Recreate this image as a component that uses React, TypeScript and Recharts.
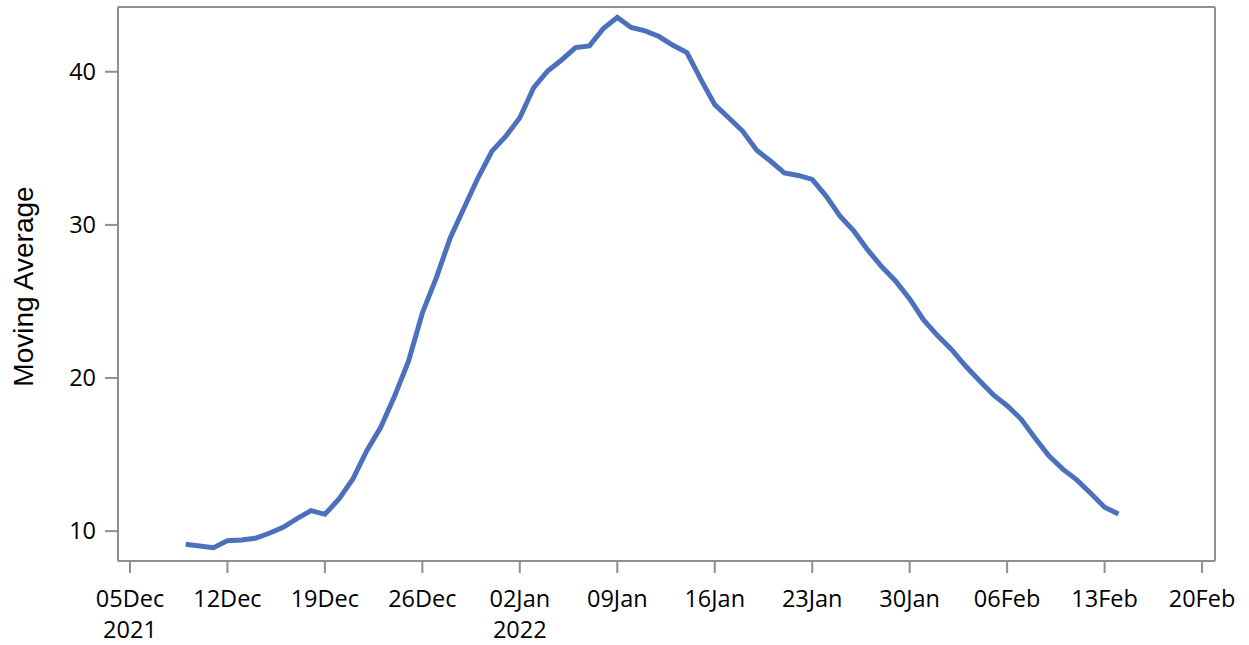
import React from "react";
import { LineChart, Line, XAxis, YAxis } from "recharts";

const dates: string[] = [
  "2021-12-09","2021-12-10","2021-12-11","2021-12-12","2021-12-13","2021-12-14","2021-12-15",
  "2021-12-16","2021-12-17","2021-12-18","2021-12-19","2021-12-20","2021-12-21","2021-12-22",
  "2021-12-23","2021-12-24","2021-12-25","2021-12-26","2021-12-27","2021-12-28","2021-12-29",
  "2021-12-30","2021-12-31","2022-01-01","2022-01-02","2022-01-03","2022-01-04","2022-01-05",
  "2022-01-06","2022-01-07","2022-01-08","2022-01-09","2022-01-10","2022-01-11","2022-01-12",
  "2022-01-13","2022-01-14","2022-01-15","2022-01-16","2022-01-17","2022-01-18","2022-01-19",
  "2022-01-20","2022-01-21","2022-01-22","2022-01-23","2022-01-24","2022-01-25","2022-01-26",
  "2022-01-27","2022-01-28","2022-01-29","2022-01-30","2022-01-31","2022-02-01","2022-02-02",
  "2022-02-03","2022-02-04","2022-02-05","2022-02-06","2022-02-07","2022-02-08","2022-02-09",
  "2022-02-10","2022-02-11","2022-02-12","2022-02-13","2022-02-14",
];

const movingAverage: number[] = [
  9.14, 9.03, 8.92, 9.38, 9.42, 9.53, 9.86,
  10.25, 10.82, 11.34, 11.10, 12.08, 13.39, 15.24,
  16.77, 18.80, 21.09, 24.25, 26.54, 29.15, 31.12,
  33.08, 34.82, 35.80, 37.00, 38.97, 40.05, 40.77,
  41.58, 41.69, 42.83, 43.55, 42.89, 42.67, 42.30,
  41.73, 41.25, 39.50, 37.85, 37.00, 36.13, 34.89,
  34.17, 33.40, 33.23, 32.97, 31.88, 30.57, 29.59,
  28.35, 27.26, 26.32, 25.17, 23.79, 22.77, 21.87,
  20.80, 19.84, 18.91, 18.19, 17.32, 16.08, 14.92,
  14.05, 13.35, 12.48, 11.56, 11.12,
];

const xTickDates: string[] = [
  "2021-12-05","2021-12-12","2021-12-19","2021-12-26","2022-01-02","2022-01-09",
  "2022-01-16","2022-01-23","2022-01-30","2022-02-06","2022-02-13","2022-02-20",
];
const xTickLabels: string[] = [
  "05Dec","12Dec","19Dec","26Dec","02Jan","09Jan","16Jan","23Jan","30Jan","06Feb","13Feb","20Feb",
];
const xTickYears: string[] = ["2021","","","","2022","","","","","","",""];
const yTicks: number[] = [10, 20, 30, 40];

const ORIGIN = Date.UTC(2021, 11, 5);
const dayOf = (s: string) => {
  const [y, m, d] = s.split("-").map(Number);
  return Math.round((Date.UTC(y, m - 1, d) - ORIGIN) / 86400000);
};

const data = dates.map((d, i) => ({ day: dayOf(d), value: movingAverage[i] }));
const xTicks = xTickDates.map(dayOf);

const FONT = "'Open Sans', 'Noto Sans', sans-serif";
const LABEL_FONT = "'Liberation Sans', Arial, sans-serif";
const AXIS = "#8f8f8f";
const LINE = "#4c71bc";
const TICK_FS = 23.5;

const XTick = (props: any) => {
  const { x, y, payload } = props;
  const idx = xTicks.indexOf(payload.value);
  return (
    <g>
      <text x={x} y={y + 34} textAnchor="middle" fill="#000" fontSize={TICK_FS} fontFamily={FONT}>
        {xTickLabels[idx]}
      </text>
      {xTickYears[idx] ? (
        <text x={x} y={y + 65} textAnchor="middle" fill="#000" fontSize={TICK_FS} fontFamily={FONT}>
          {xTickYears[idx]}
        </text>
      ) : null}
    </g>
  );
};

export default function App() {
  return (
    <div style={{ position: "relative", width: 1249, height: 645 }}>
      <style>{"body{margin:0;}"}</style>
      <LineChart
        width={1249}
        height={645}
        data={data}
        margin={{ top: 6, right: 33, bottom: 0, left: 0 }}
      >
        <XAxis
          xAxisId="bottom"
          dataKey="day"
          type="number"
          domain={[-0.86, 77.93]}
          ticks={xTicks}
          interval={0}
          height={84}
          tickSize={12}
          tickMargin={0}
          stroke={AXIS}
          strokeWidth={2}
          tickLine={{ stroke: AXIS, strokeWidth: 2 }}
          axisLine={{ stroke: AXIS, strokeWidth: 2 }}
          tick={<XTick />}
        />
        <XAxis
          xAxisId="top"
          orientation="top"
          dataKey="day"
          type="number"
          domain={[-0.86, 77.93]}
          height={1}
          tick={false}
          tickLine={false}
          axisLine={{ stroke: AXIS, strokeWidth: 2 }}
        />
        <YAxis
          yAxisId="left"
          type="number"
          domain={[8.05, 44.23]}
          ticks={yTicks}
          interval={0}
          width={118}
          tickSize={13}
          tickMargin={9}
          tickLine={{ stroke: AXIS, strokeWidth: 2 }}
          axisLine={{ stroke: AXIS, strokeWidth: 2 }}
          tick={{ fill: "#000", fontSize: TICK_FS, fontFamily: FONT }}
        />
        <YAxis
          yAxisId="right"
          orientation="right"
          type="number"
          domain={[8.05, 44.23]}
          width={1}
          tick={false}
          tickLine={false}
          axisLine={{ stroke: AXIS, strokeWidth: 2 }}
        />
        <Line
          xAxisId="bottom"
          yAxisId="left"
          type="linear"
          dataKey="value"
          stroke={LINE}
          strokeWidth={5}
          strokeLinejoin="miter"
          dot={false}
          activeDot={false}
          isAnimationActive={false}
        />
      </LineChart>
      <svg
        width={60}
        height={645}
        style={{ position: "absolute", left: 0, top: 0, pointerEvents: "none" }}
      >
        <text
          x={33}
          y={286.5}
          transform="rotate(-90 33 286.5)"
          textAnchor="middle"
          fill="#000"
          fontSize={28}
          fontFamily={LABEL_FONT}
        >
          Moving Average
        </text>
      </svg>
    </div>
  );
}
